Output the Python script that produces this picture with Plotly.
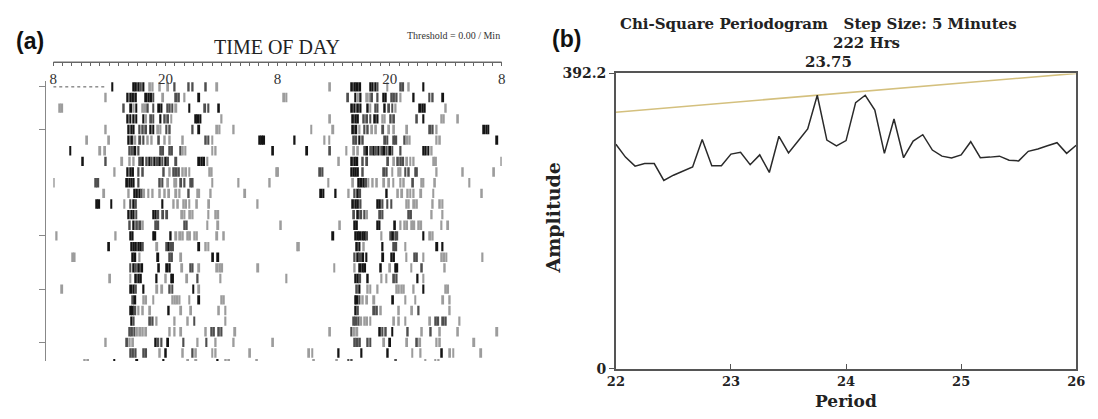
import plotly.graph_objects as go

W, H = 1098, 419


def fx(p):
    return p / W


def fy(p):
    return 1 - p / H


# ---------------- (a) actogram data: hours after 08:00 for each day ----------------
activity_hours = [
    [6.32, 8.60, 8.84, 9.12, 9.37, 9.65, 10.35, 10.63, 11.40, 12.28, 12.98, 14.49, 14.91, 16.32, 17.54],
    [5.61, 7.96, 8.25, 8.53, 8.84, 9.93, 10.18, 10.46, 10.70, 11.75, 13.16, 13.44, 14.04, 15.61],
    [0.70, 0.95, 7.54, 8.32, 8.60, 8.88, 9.58, 9.82, 10.11, 10.70, 11.33, 11.58, 12.21, 12.46, 12.74, 13.16, 14.56, 16.25, 16.60, 17.72],
    [7.96, 8.25, 8.60, 8.88, 9.65, 9.93, 10.46, 10.70, 11.47, 11.93, 12.28, 12.63, 15.26, 15.51, 15.75, 18.00],
    [5.61, 8.07, 8.35, 8.60, 9.23, 9.58, 9.93, 10.42, 10.70, 11.23, 11.47, 12.11, 12.46, 14.91, 15.61, 17.54, 17.79, 19.30],
    [3.61, 5.96, 8.07, 8.42, 8.77, 9.30, 9.65, 10.11, 10.53, 11.30, 11.93, 12.46, 13.86, 16.32, 16.60, 17.02, 22.11, 22.35, 22.56],
    [1.82, 5.02, 5.54, 8.14, 8.42, 8.77, 9.12, 11.51, 11.75, 12.46, 12.70, 13.61, 13.86, 14.14, 17.02, 17.37, 23.51],
    [3.16, 5.61, 7.37, 8.18, 8.60, 9.30, 9.58, 10.00, 10.28, 10.53, 10.81, 11.12, 11.40, 11.68, 12.04, 12.28, 13.16, 15.61, 15.86, 16.14, 16.49],
    [6.56, 7.96, 8.25, 8.53, 9.12, 9.58, 11.82, 12.46, 12.88, 13.16, 13.44, 13.86, 14.21, 14.56, 16.74, 16.95, 23.96],
    [0.05, 4.56, 4.81, 7.89, 8.14, 8.35, 8.60, 9.12, 11.40, 11.68, 12.28, 12.98, 13.16, 13.68, 14.04, 14.74, 14.91, 17.02, 19.82, 23.16],
    [5.44, 8.07, 8.67, 8.95, 9.23, 9.47, 9.72, 10.18, 10.63, 11.40, 11.93, 12.39, 13.16, 13.51, 14.49, 15.44, 15.61, 16.84, 20.53],
    [4.67, 4.91, 6.21, 7.61, 8.25, 8.60, 8.84, 11.68, 12.88, 13.33, 13.93, 14.21, 14.56, 15.37, 16.67, 21.86],
    [8.07, 8.35, 8.60, 8.88, 10.70, 10.95, 11.23, 11.75, 12.18, 13.79, 14.04, 14.63, 14.91, 16.60, 17.37, 17.65],
    [8.18, 8.60, 8.95, 9.30, 9.58, 10.98, 11.23, 14.04, 14.28, 16.49, 17.65],
    [0.35, 6.67, 8.25, 8.49, 10.70, 10.91, 12.56, 13.16, 13.58, 13.86, 14.39, 14.63, 15.09, 15.37, 17.54, 18.25],
    [5.96, 8.35, 8.60, 8.84, 9.12, 9.37, 9.58, 11.12, 12.11, 12.35, 12.60, 12.81, 15.61, 16.32, 16.60],
    [2.11, 2.28, 8.49, 8.77, 9.23, 11.23, 12.46, 12.70, 13.68, 17.09, 17.65],
    [8.25, 8.60, 8.84, 9.16, 9.51, 11.30, 12.18, 12.46, 13.79, 14.67, 14.91, 15.61, 17.54, 17.82, 18.07, 21.93],
    [6.07, 8.25, 8.84, 9.12, 9.37, 11.05, 12.04, 12.63, 12.81, 14.32, 15.44, 17.89],
    [0.95, 8.32, 8.60, 8.84, 9.65, 11.12, 11.65, 12.46, 12.74, 14.98, 15.61],
    [8.49, 8.77, 9.65, 9.93, 10.70, 12.74, 12.98, 13.26, 13.51, 14.56, 15.61, 18.00, 18.25],
    [8.32, 8.53, 8.77, 9.12, 9.58, 10.35, 12.35, 13.68, 14.74, 17.72, 18.42],
    [8.35, 8.60, 10.35, 10.63, 11.05, 12.98, 14.39, 15.09, 18.42],
    [8.18, 8.42, 8.67, 8.95, 9.30, 9.58, 9.93, 12.46, 12.98, 13.68, 16.32, 16.91, 17.19, 17.72, 18.00, 19.47],
    [5.61, 7.89, 8.18, 8.53, 10.95, 11.23, 11.58, 12.28, 13.93, 15.44, 16.39, 17.37, 19.30, 23.51],
    [8.25, 8.53, 8.81, 9.65, 9.93, 11.40, 12.04, 13.86, 14.91, 15.26, 17.02, 17.37, 21.05],
    [3.37, 3.72, 6.53, 8.98, 11.79, 14.42, 15.30, 17.58, 18.46, 18.81, 21.79],
    [3.89, 6.35, 7.58, 7.93, 12.67, 15.82, 16.88, 17.23],
]
# 3 = heavy, 2 = medium, 1 = light activity
activity_levels = [
    [3, 3, 3, 3, 2, 3, 1, 1, 1, 1, 2, 2, 2, 2, 1],
    [1, 3, 3, 3, 3, 3, 3, 3, 2, 1, 2, 2, 1, 3],
    [1, 1, 2, 3, 1, 3, 1, 1, 2, 2, 3, 3, 2, 2, 2, 1, 3, 2, 2, 3],
    [3, 3, 3, 3, 3, 1, 2, 2, 3, 2, 2, 1, 3, 3, 3, 1],
    [1, 3, 3, 3, 2, 2, 2, 3, 3, 1, 1, 2, 2, 2, 3, 1, 1, 1],
    [1, 1, 3, 3, 1, 2, 2, 1, 1, 2, 1, 1, 1, 2, 2, 1, 3, 3, 3],
    [3, 1, 1, 2, 2, 3, 2, 2, 2, 2, 2, 2, 1, 1, 1, 1, 3],
    [3, 2, 1, 1, 1, 2, 3, 2, 3, 2, 3, 2, 3, 2, 3, 2, 2, 3, 3, 3, 1],
    [1, 3, 3, 3, 2, 2, 2, 1, 2, 2, 2, 1, 1, 1, 1, 1, 1],
    [1, 2, 2, 3, 3, 3, 3, 2, 2, 2, 1, 1, 1, 2, 2, 2, 2, 1, 1, 1],
    [1, 1, 3, 3, 3, 2, 1, 1, 1, 1, 1, 1, 1, 1, 2, 1, 1, 1, 1],
    [3, 3, 3, 1, 2, 3, 2, 3, 1, 1, 1, 1, 1, 1, 1, 1],
    [3, 3, 3, 2, 3, 3, 2, 2, 2, 1, 1, 1, 1, 1, 1, 1],
    [2, 3, 2, 2, 1, 2, 2, 2, 2, 1, 1],
    [1, 1, 3, 3, 3, 3, 3, 1, 1, 1, 1, 1, 1, 1, 1, 1],
    [3, 3, 3, 3, 3, 3, 2, 1, 2, 3, 2, 2, 3, 1, 1],
    [1, 1, 3, 3, 1, 3, 2, 2, 1, 3, 3],
    [2, 3, 2, 3, 3, 3, 3, 3, 1, 2, 2, 1, 1, 1, 1, 1],
    [1, 1, 3, 3, 3, 3, 1, 3, 3, 1, 2, 1],
    [1, 3, 3, 2, 3, 1, 1, 2, 2, 3, 1],
    [2, 3, 1, 1, 1, 1, 1, 1, 1, 1, 3, 1, 1],
    [3, 3, 2, 1, 1, 1, 3, 1, 1, 1, 1],
    [3, 2, 2, 2, 1, 1, 1, 2, 1],
    [2, 2, 2, 1, 1, 1, 1, 1, 1, 1, 1, 2, 2, 2, 2, 1],
    [1, 2, 1, 1, 3, 2, 2, 3, 2, 1, 2, 1, 1, 1],
    [2, 2, 2, 2, 2, 1, 3, 1, 2, 1, 1, 1, 1],
    [1, 1, 3, 3, 3, 1, 1, 3, 1, 1, 1],
    [1, 1, 2, 2, 2, 1, 1, 1],
]
first_day_no_data_until = 5.58
ruler_hours = list(range(49))
day_tick_labels = {0: "8", 12: "20", 24: "8", 36: "20", 48: "8"}
marked_rows = [1, 5, 15, 20, 25]
n_rows = 27

# ---------------- (b) chi-square periodogram ----------------
period_hours = [round(22 + k * 5 / 60, 4) for k in range(49)]
amplitude = [298, 281, 269, 272.5, 272.5, 250, 257, 263, 268, 304.5, 269.5, 269.5,
             285, 287.5, 271, 284, 260.6, 308.7, 286.6, 302.3, 318.5, 363.2, 303.6, 296,
             303, 353.4, 363.2, 343.6, 286, 331.7, 280.2, 302.3, 310.8, 290.4, 282.3, 279.8,
             284, 301.5, 280.2, 281, 282.3, 276.8, 276, 288.7, 291.7, 296, 300.2, 286, 296.8]
threshold_period = [22, 26]
threshold_amp = [340.7, 392.2]
amp_max = 392.2
period_ticks = [22, 23, 24, 25, 26]

level_color = {3: "#141414", 2: "#4e4e4e", 1: "#9c9c9c"}

bx, bbase, bcol = [], [], []
for d, (hrs, lvls) in enumerate(zip(activity_hours, activity_levels), start=1):
    for h, lv in zip(hrs, lvls):
        if d <= n_rows:
            bx.append(h)
            bbase.append(-d - 0.44)
            bcol.append(level_color[lv])
        if d - 1 >= 1:
            bx.append(h + 24)
            bbase.append(-(d - 1) - 0.44)
            bcol.append(level_color[lv])

fig = go.Figure()
fig.add_trace(go.Bar(x=bx, y=[0.88] * len(bx), base=bbase, width=0.21,
                     marker=dict(color=bcol, line=dict(width=0)),
                     xaxis="x", yaxis="y", hoverinfo="skip"))
fig.add_trace(go.Scatter(x=[0, first_day_no_data_until], y=[-1, -1], mode="lines",
                         line=dict(color="#555", width=1, dash="dot"),
                         xaxis="x", yaxis="y", hoverinfo="skip"))
# ruler (time-of-day scale) drawn in its own thin subplot
fig.add_trace(go.Scatter(x=[ruler_hours[0], ruler_hours[-1]], y=[0, 0], mode="lines",
                         line=dict(color="#666", width=1), cliponaxis=False,
                         xaxis="x3", yaxis="y3", hoverinfo="skip"))

fig.add_trace(go.Scatter(x=threshold_period, y=threshold_amp, mode="lines",
                         line=dict(color="#d4c07e", width=1.6),
                         xaxis="x2", yaxis="y2", hoverinfo="skip"))
fig.add_trace(go.Scatter(x=period_hours, y=amplitude, mode="lines",
                         line=dict(color="#2a2a2a", width=1.5),
                         xaxis="x2", yaxis="y2", hoverinfo="skip"))

serif = "Liberation Serif"
bserif = "DejaVu Serif"

row_top = -1 + 6 / 11.07
row_bot = -1 - (367 - 82) / 11.07

fig.update_layout(
    width=W, height=H, margin=dict(l=0, r=0, t=0, b=0),
    paper_bgcolor="white", plot_bgcolor="white", showlegend=False,
    barmode="overlay",
    xaxis=dict(domain=[fx(45), fx(501)], range=[0, 48], anchor="y", visible=False,
               fixedrange=True),
    yaxis=dict(domain=[fy(367), fy(76)], range=[row_bot, row_top], anchor="free",
               position=fx(37), showline=True, linecolor="#888", linewidth=1,
               ticks="outside", ticklen=6, tickcolor="#888",
               tickmode="array", tickvals=[-r for r in marked_rows], showticklabels=False,
               showgrid=False, zeroline=False, fixedrange=True),
    xaxis3=dict(domain=[fx(45), fx(501)], range=[0, 48], anchor="y3", side="bottom",
                showline=True, linecolor="#666", linewidth=1,
                ticks="outside", ticklen=3, tickcolor="#666", tickwidth=1,
                tickmode="array", tickvals=ruler_hours,
                ticktext=[day_tick_labels.get(h, "") for h in ruler_hours],
                tickfont=dict(family=serif, size=15, color="#333"),
                showgrid=False, zeroline=False, fixedrange=True),
    yaxis3=dict(domain=[fy(56), fy(46)], range=[0, 1], anchor="x3",
                showgrid=False, zeroline=False, showline=False, ticks="",
                showticklabels=False, fixedrange=True),
    xaxis2=dict(domain=[fx(617), fx(1085)], range=[22, 26], anchor="y2",
                showline=True, mirror=True, linecolor="#555", linewidth=1.5,
                ticks="inside", ticklen=5, tickcolor="#555",
                tickmode="array", tickvals=period_ticks,
                tickfont=dict(family=bserif, size=13, color="#222", weight="bold"),
                showgrid=False, zeroline=False, fixedrange=True),
    yaxis2=dict(domain=[fy(375), fy(68)], range=[0, amp_max], anchor="x2",
                showline=True, mirror=True, linecolor="#555", linewidth=1.5,
                ticks="outside", ticklen=5, tickcolor="#555",
                tickmode="array", tickvals=[0, amp_max], ticktext=["0", "392.2"],
                tickfont=dict(family=bserif, size=14, color="#222", weight="bold"),
                showgrid=False, zeroline=False, fixedrange=True),
)


def ann(text, x, y, size, family, color="#222", bold=False, xanchor="center", angle=0):
    fig.add_annotation(text=text, x=fx(x), y=fy(y), xref="paper", yref="paper",
                       showarrow=False, xanchor=xanchor, yanchor="middle", textangle=angle,
                       borderpad=0,
                       font=dict(family=family, size=size, color=color,
                                 weight="bold" if bold else "normal"))


ann("(a)", 21, 34, 23, "Liberation Sans", "#111", True)
ann("TIME OF DAY", 272, 41, 20, serif, "#222")
ann("Threshold = 0.00 / Min", 500, 29, 10, serif, "#333", xanchor="right")
ann("(b)", 567, 32, 23, "Liberation Sans", "#111", True)
ann("Chi-Square Periodogram&nbsp;&nbsp;&nbsp;Step Size: 5 Minutes", 823, 17, 15, bserif, "#222", True)
ann("222 Hrs", 872, 36, 15, bserif, "#222", True)
ann("23.75", 833, 56, 15, bserif, "#222", True)
ann("Amplitude", 553, 218, 19, bserif, "#222", True, angle=-90)
ann("Period", 851, 409, 17, bserif, "#222", True)

fig.write_html("out.html")
